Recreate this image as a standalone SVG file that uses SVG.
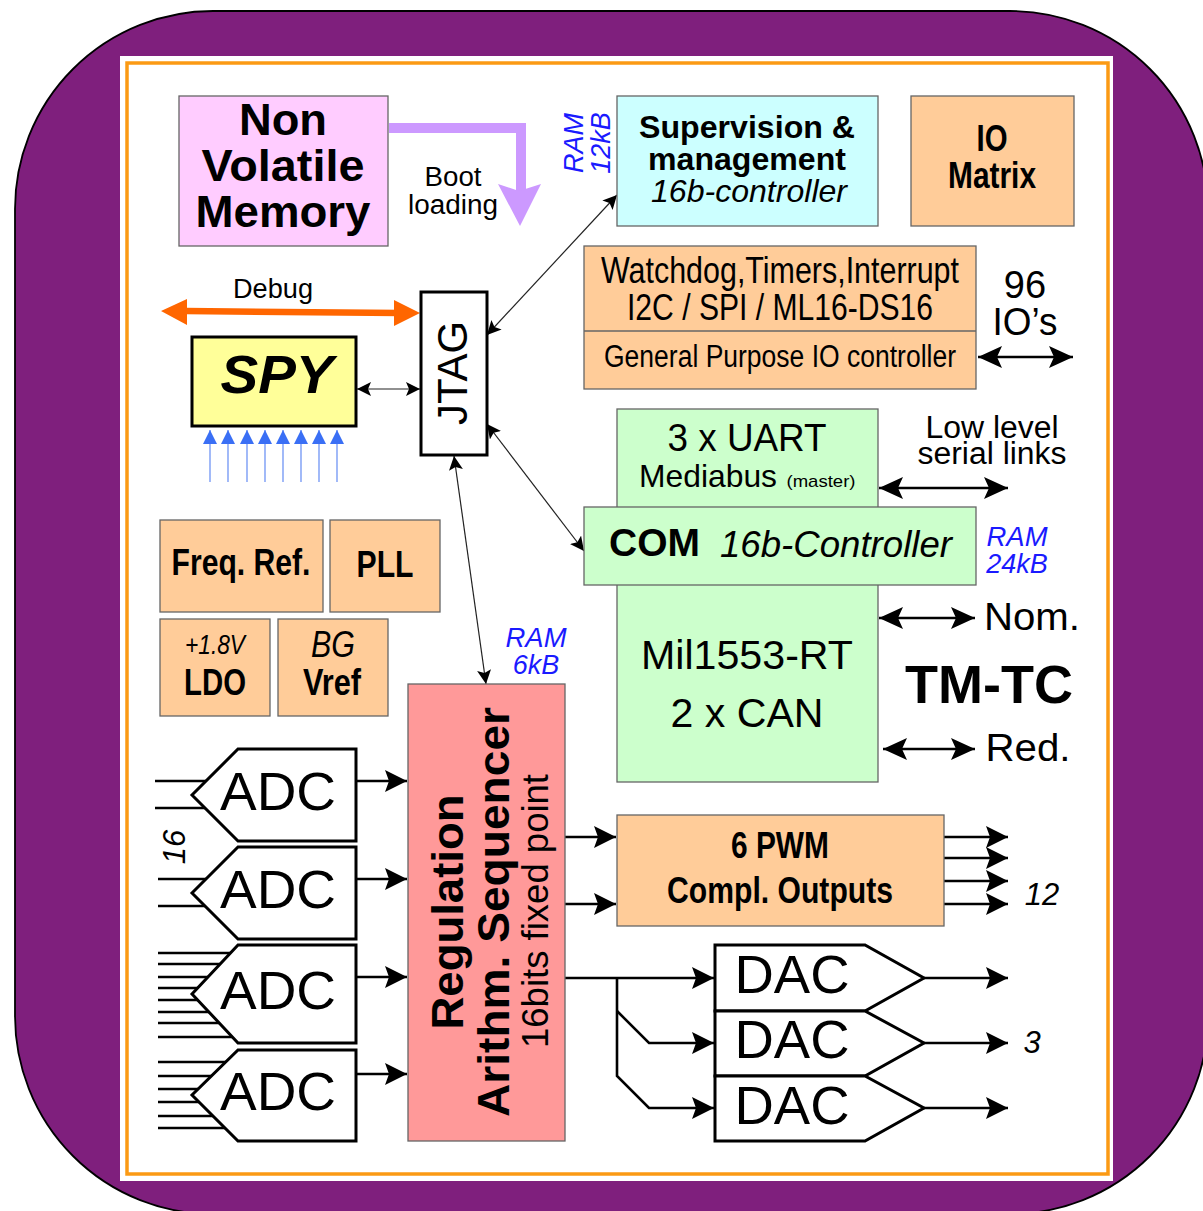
<svg xmlns="http://www.w3.org/2000/svg" width="1203" height="1211" viewBox="0 0 1203 1211">
<style>
text{font-family:"Liberation Sans",Arial,sans-serif;fill:#000;text-anchor:middle}
.b{font-weight:bold}.i{font-style:italic}.r{fill:#1a1aff;font-style:italic}
.box{stroke:#666;stroke-width:1.3}
.or{fill:#ffcc99}.gr{fill:#ccffcc}
.sym{fill:#fff;stroke:#000;stroke-width:3}
.w{fill:none;stroke:#000;stroke-width:2.6}
.t{fill:none;stroke:#222;stroke-width:1.2}
.bl{fill:none;stroke:#7a9cf5;stroke-width:1.4}
</style>
<defs>
<marker id="a" markerUnits="userSpaceOnUse" markerWidth="24" markerHeight="24" refX="22" refY="11" orient="auto"><path d="M0 0L22 11L0 22L4 11Z" fill="#000"/></marker>
<marker id="as" markerUnits="userSpaceOnUse" markerWidth="16" markerHeight="16" orient="auto-start-reverse" refX="14" refY="7"><path d="M0 0L14 7L0 14L3 7Z" fill="#000"/></marker>
<marker id="am" markerUnits="userSpaceOnUse" markerWidth="26" markerHeight="24" orient="auto-start-reverse" refX="24" refY="11"><path d="M0 0L24 11L0 22L5 11Z" fill="#000"/></marker>
<marker id="ab" markerUnits="userSpaceOnUse" markerWidth="16" markerHeight="16" orient="auto" refX="14" refY="7"><path d="M0 0L14 7L0 14Z" fill="#3a6ff5"/></marker>
</defs>
<rect width="1203" height="1211" fill="#fff"/>
<rect x="15" y="11" width="1193" height="1203" rx="198" ry="198" fill="#7f1f7d" stroke="#000" stroke-width="1.8"/>
<rect x="120" y="56" width="993" height="1125" fill="#fff"/>
<rect x="127" y="63" width="981" height="1111" fill="none" stroke="#fb9a14" stroke-width="3.500"/>

<g id="connectors">
<path d="M389 128H521V192" fill="none" stroke="#cc99ff" stroke-width="10"/>
<path d="M498 184L519 191L541 184L520 226Z" fill="#cc99ff"/>
<path d="M186 311L400 313" stroke="#ff6600" stroke-width="6.500" fill="none"/>
<path d="M161 311L187 299L187 325Z M420 313L394 300L394 326Z" fill="#ff6600"/>
<path class="t" d="M357 389H420" marker-start="url(#as)" marker-end="url(#as)"/>
<path class="t" d="M487 335L617 195" marker-start="url(#as)" marker-end="url(#as)"/>
<path class="t" d="M487 424L584 551" marker-start="url(#as)" marker-end="url(#as)"/>
<path class="t" d="M454 456L486 684" marker-start="url(#as)" marker-end="url(#as)"/>
<g class="blues">
<path class="bl" d="M210 482V430" marker-end="url(#ab)"/><path class="bl" d="M228 482V430" marker-end="url(#ab)"/><path class="bl" d="M247 482V430" marker-end="url(#ab)"/><path class="bl" d="M265 482V430" marker-end="url(#ab)"/><path class="bl" d="M283 482V430" marker-end="url(#ab)"/><path class="bl" d="M301 482V430" marker-end="url(#ab)"/><path class="bl" d="M319 482V430" marker-end="url(#ab)"/><path class="bl" d="M337 482V430" marker-end="url(#ab)"/>
</g>
<path class="w" d="M978 357H1073" marker-start="url(#am)" marker-end="url(#am)"/>
<path class="w" d="M879 488H1008" marker-start="url(#am)" marker-end="url(#am)"/>
<path class="w" d="M879 618H975" marker-start="url(#am)" marker-end="url(#am)"/>
<path class="w" d="M883 749H975" marker-start="url(#am)" marker-end="url(#am)"/>
<path class="w" d="M356 781H407" marker-end="url(#a)"/>
<path class="w" d="M356 879H407" marker-end="url(#a)"/>
<path class="w" d="M356 977H407" marker-end="url(#a)"/>
<path class="w" d="M356 1074H407" marker-end="url(#a)"/>
<path class="w" d="M565 837H616" marker-end="url(#a)"/>
<path class="w" d="M565 904H616" marker-end="url(#a)"/>
<path class="w" d="M944 837H1008" marker-end="url(#a)"/>
<path class="w" d="M944 858H1008" marker-end="url(#a)"/>
<path class="w" d="M944 881H1008" marker-end="url(#a)"/>
<path class="w" d="M944 904H1008" marker-end="url(#a)"/>
<path class="w" d="M565 978H714" marker-end="url(#a)"/>
<path class="w" d="M617 978V1076L649 1108H714" marker-end="url(#a)"/>
<path class="w" d="M617 1011L649 1043H714" marker-end="url(#a)"/>
<path class="w" d="M924 978H1008" marker-end="url(#a)"/>
<path class="w" d="M924 1043H1008" marker-end="url(#a)"/>
<path class="w" d="M924 1108H1008" marker-end="url(#a)"/>
<path class="w" d="M155 781H210M155 808H210M158 879H210M158 906H210"/>
<path class="w" d="M158 953H240M158 964H225M158 977H215M158 988H205M158 1000H205M158 1012H215M158 1023H225M158 1037H240"/>
<path class="w" d="M158 1062H235M158 1076H215M158 1089H200M158 1102H200M158 1116H215M158 1128H235"/>
</g>

<g id="nvm"><rect class="box" x="179" y="96" width="209" height="150" fill="#ffccff"/>
<text class="b" x="283" y="135" font-size="44" textLength="88" lengthAdjust="spacingAndGlyphs">Non</text>
<text class="b" x="283" y="181" font-size="44" textLength="163" lengthAdjust="spacingAndGlyphs">Volatile</text>
<text class="b" x="283" y="227" font-size="44" textLength="175" lengthAdjust="spacingAndGlyphs">Memory</text></g>
<g id="boot"><text x="453" y="186" font-size="27" textLength="57" lengthAdjust="spacingAndGlyphs">Boot</text><text x="453" y="214" font-size="27" textLength="90" lengthAdjust="spacingAndGlyphs">loading</text></g>
<g id="debug"><text x="273" y="298" font-size="27" textLength="80" lengthAdjust="spacingAndGlyphs">Debug</text></g>
<g id="spy"><rect x="192" y="337" width="164" height="89" fill="#ffff99" stroke="#000" stroke-width="3"/>
<text class="b i" x="277" y="393" font-size="54" textLength="113" lengthAdjust="spacingAndGlyphs">SPY</text></g>
<g id="jtag"><rect class="sym" x="421" y="292" width="66" height="163"/>
<text transform="translate(467 373) rotate(-90)" font-size="42" textLength="104" lengthAdjust="spacingAndGlyphs">JTAG</text></g>
<g id="ram12"><text class="r" transform="translate(583 143) rotate(-90)" font-size="27">RAM</text><text class="r" transform="translate(610 143) rotate(-90)" font-size="27">12kB</text></g>
<g id="sup"><rect class="box" x="617" y="96" width="261" height="130" fill="#ccffff"/>
<text class="b" x="747" y="138" font-size="32" textLength="216" lengthAdjust="spacingAndGlyphs">Supervision &amp;</text>
<text class="b" x="747" y="170" font-size="32" textLength="198" lengthAdjust="spacingAndGlyphs">management</text>
<text class="i" x="749" y="202" font-size="32" textLength="196" lengthAdjust="spacingAndGlyphs">16b-controller</text></g>
<g id="io"><rect class="box or" x="911" y="96" width="163" height="130"/>
<text class="b" x="992" y="151" font-size="36" textLength="31" lengthAdjust="spacingAndGlyphs">IO</text>
<text class="b" x="992" y="188" font-size="36" textLength="88" lengthAdjust="spacingAndGlyphs">Matrix</text></g>
<g id="wd"><rect class="box or" x="584" y="246" width="392" height="143"/><path class="box" d="M584 331H976" fill="none"/>
<text x="780" y="283" font-size="36" textLength="358" lengthAdjust="spacingAndGlyphs">Watchdog,Timers,Interrupt</text>
<text x="780" y="320" font-size="36" textLength="306" lengthAdjust="spacingAndGlyphs">I2C / SPI / ML16-DS16</text>
<text x="780" y="367" font-size="31" textLength="352" lengthAdjust="spacingAndGlyphs">General Purpose IO controller</text></g>
<g id="ios"><text x="1025" y="298" font-size="38">96</text><text x="1025" y="335" font-size="38" textLength="65" lengthAdjust="spacingAndGlyphs">IO’s</text></g>
<g id="uart"><rect class="box gr" x="617" y="409" width="261" height="373"/>
<text x="747" y="451" font-size="38" textLength="159" lengthAdjust="spacingAndGlyphs">3 x UART</text>
<text x="708" y="487" font-size="32" textLength="138" lengthAdjust="spacingAndGlyphs">Mediabus</text>
<text x="821" y="487" font-size="17" textLength="69" lengthAdjust="spacingAndGlyphs">(master)</text>
<text x="747" y="669" font-size="41" textLength="212" lengthAdjust="spacingAndGlyphs">Mil1553-RT</text>
<text x="747" y="727" font-size="41" textLength="153" lengthAdjust="spacingAndGlyphs">2 x CAN</text></g>
<g id="com"><rect class="box gr" x="584" y="507" width="392" height="78"/>
<text class="b" x="609" y="556" font-size="39" style="text-anchor:start">COM</text>
<text class="i" x="836" y="557" font-size="37" textLength="232" lengthAdjust="spacingAndGlyphs">16b-Controller</text></g>
<g id="labels">
<text x="992" y="438" font-size="31" textLength="133" lengthAdjust="spacingAndGlyphs">Low level</text><text x="992" y="464" font-size="31" textLength="149" lengthAdjust="spacingAndGlyphs">serial links</text>
<text class="r" x="1017" y="546" font-size="27" textLength="61" lengthAdjust="spacingAndGlyphs">RAM</text><text class="r" x="1017" y="573" font-size="27">24kB</text>
<text x="1032" y="630" font-size="39" textLength="96" lengthAdjust="spacingAndGlyphs">Nom.</text>
<text x="1028" y="761" font-size="39" textLength="85" lengthAdjust="spacingAndGlyphs">Red.</text>
<text class="b" x="989" y="703" font-size="54">TM-TC</text>
<text class="r" x="536" y="647" font-size="27" textLength="61" lengthAdjust="spacingAndGlyphs">RAM</text><text class="r" x="536" y="674" font-size="27">6kB</text>
<text class="i" transform="translate(185 847) rotate(-90)" font-size="31">16</text>
<text class="i" x="1042" y="905" font-size="31">12</text>
<text class="i" x="1032" y="1053" font-size="31">3</text>
</g>
<g id="freq"><rect class="box or" x="160" y="520" width="163" height="92"/><text class="b" x="241" y="575" font-size="36" textLength="139" lengthAdjust="spacingAndGlyphs">Freq. Ref.</text></g>
<g id="pll"><rect class="box or" x="330" y="520" width="110" height="92"/><text class="b" x="385" y="577" font-size="36" textLength="57" lengthAdjust="spacingAndGlyphs">PLL</text></g>
<g id="ldo"><rect class="box or" x="160" y="619" width="110" height="97"/><text class="i" x="215" y="654" font-size="27" textLength="60" lengthAdjust="spacingAndGlyphs">+1.8V</text><text class="b" x="215" y="695" font-size="36" textLength="62" lengthAdjust="spacingAndGlyphs">LDO</text></g>
<g id="vref"><rect class="box or" x="278" y="619" width="110" height="97"/><text class="i" x="333" y="657" font-size="36" textLength="44" lengthAdjust="spacingAndGlyphs">BG</text><text class="b" x="332" y="695" font-size="36" textLength="58" lengthAdjust="spacingAndGlyphs">Vref</text></g>
<g id="reg"><rect class="box" x="408" y="684" width="157" height="457" fill="#ff9999"/>
<text class="b" transform="translate(463 912) rotate(-90)" font-size="44" textLength="235" lengthAdjust="spacingAndGlyphs">Regulation</text>
<text class="b" transform="translate(509 912) rotate(-90)" font-size="44" textLength="410" lengthAdjust="spacingAndGlyphs">Arithm. Sequencer</text>
<text transform="translate(548 911) rotate(-90)" font-size="36" textLength="274" lengthAdjust="spacingAndGlyphs">16bits fixed point</text></g>
<g id="adc1"><path class="sym" d="M238 749H356V841H238L192 795Z"/><text x="278" y="810" font-size="54" textLength="116" lengthAdjust="spacingAndGlyphs">ADC</text></g>
<g id="adc2"><path class="sym" d="M238 847H356V939H238L192 893Z"/><text x="278" y="908" font-size="54" textLength="116" lengthAdjust="spacingAndGlyphs">ADC</text></g>
<g id="adc3"><path class="sym" d="M238 945H356V1043H238L192 994Z"/><text x="278" y="1009" font-size="54" textLength="116" lengthAdjust="spacingAndGlyphs">ADC</text></g>
<g id="adc4"><path class="sym" d="M238 1050H356V1141H238L192 1095Z"/><text x="278" y="1110" font-size="54" textLength="116" lengthAdjust="spacingAndGlyphs">ADC</text></g>
<g id="pwm"><rect class="box or" x="617" y="815" width="327" height="111"/>
<text class="b" x="780" y="858" font-size="36" textLength="98" lengthAdjust="spacingAndGlyphs">6 PWM</text>
<text class="b" x="780" y="903" font-size="36" textLength="226" lengthAdjust="spacingAndGlyphs">Compl. Outputs</text></g>
<g id="dac1"><path class="sym" d="M715 945H865L924 978L865 1011H715Z"/><text x="792" y="993" font-size="54" textLength="115" lengthAdjust="spacingAndGlyphs">DAC</text></g>
<g id="dac2"><path class="sym" d="M715 1011H865L924 1043L865 1076H715Z"/><text x="792" y="1058" font-size="54" textLength="115" lengthAdjust="spacingAndGlyphs">DAC</text></g>
<g id="dac3"><path class="sym" d="M715 1076H865L924 1108L865 1141H715Z"/><text x="792" y="1124" font-size="54" textLength="115" lengthAdjust="spacingAndGlyphs">DAC</text></g>
</svg>
